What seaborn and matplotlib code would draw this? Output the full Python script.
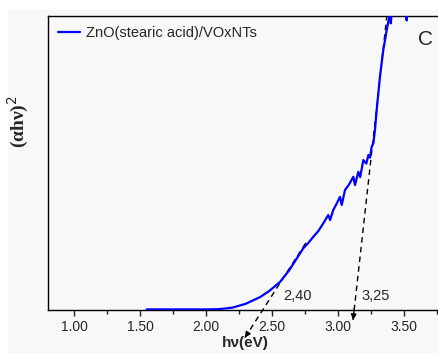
import numpy as np
import pandas as pd
import seaborn as sns
import matplotlib.pyplot as plt
from matplotlib.patches import Rectangle

# photon energy (eV) and (alpha h nu)^2 in arbitrary units
energy = [1.55, 1.70, 1.85, 2.00, 2.10, 2.20, 2.30, 2.41, 2.48, 2.56, 2.63, 2.68,
          2.737, 2.775, 2.813, 2.85, 2.889, 2.926, 2.94, 2.964, 2.99, 3.015, 3.028,
          3.053, 3.085, 3.116, 3.129, 3.154, 3.168, 3.192, 3.215, 3.23, 3.242, 3.255,
          3.268, 3.28, 3.293, 3.318, 3.343, 3.369, 3.394, 3.40, 3.42, 3.47, 3.515,
          3.52, 3.525, 3.60, 3.75]
absorb = [0.002, 0.002, 0.002, 0.002, 0.003, 0.008, 0.021, 0.044, 0.065, 0.095, 0.135,
          0.17, 0.21, 0.228, 0.249, 0.268, 0.295, 0.323, 0.306, 0.34, 0.362, 0.385,
          0.357, 0.408, 0.428, 0.453, 0.425, 0.47, 0.452, 0.51, 0.498, 0.527, 0.518,
          0.555, 0.567, 0.612, 0.68, 0.794, 0.884, 0.952, 1.01, 0.975, 1.08, 1.1,
          1.05, 0.985, 1.05, 1.15, 1.2]
series_name = "ZnO(stearic acid)/VOxNTs"

# tangent extrapolations: (x0, y0) -> (x1, y1) with edge label
tangent_low = [(2.295, -0.094), (2.76, 0.231)]
tangent_high = [(3.114, -0.034), (3.37, 1.0)]
edge_labels = ["2,40", "3,25"]
edge_label_x = [2.585, 3.18]

df = pd.DataFrame({"hv": energy, "a2": absorb, "sample": series_name})

sns.set_style("ticks")
plt.rcParams["font.family"] = ["Liberation Sans", "DejaVu Sans"]

fig = plt.figure(figsize=(4.38, 3.53), dpi=100)
fig.patch.set_facecolor("white")
bg = "#f8f8f8"
fig.patches.append(Rectangle((8 / 438, 0), 1, 1 - 10 / 353, transform=fig.transFigure,
                             facecolor=bg, edgecolor="none", zorder=-1))

ax = fig.add_axes([47.6 / 438, 43 / 353, 396 / 438, 294 / 353])
ax.set_facecolor(bg)

sns.lineplot(data=df, x="hv", y="a2", hue="sample", palette=["#0000ff"],
             estimator=None, sort=False, linewidth=1.6, ax=ax, zorder=3)

for (p0, p1) in [tangent_low, tangent_high]:
    ax.plot([p0[0], p1[0]], [p0[1], p1[1]], color="black", linestyle=(0, (4, 3)),
            linewidth=1.0, clip_on=False, zorder=2)
    # small arrow head at the lower end
    dx, dy = p1[0] - p0[0], p1[1] - p0[1]
    ax.annotate("", xy=p0, xytext=(p0[0] + dx * 0.04, p0[1] + dy * 0.04),
                arrowprops=dict(arrowstyle="-|>", color="black", lw=1.0,
                                mutation_scale=8, shrinkA=0, shrinkB=0),
                annotation_clip=False)

for lbl, lx in zip(edge_labels, edge_label_x):
    ax.text(lx, 0.048, lbl, fontsize=10.5, ha="left", va="center")

ax.set_xlim(0.8, 3.8)
ax.set_ylim(0, 1.0)
ax.set_xticks([1.0, 1.5, 2.0, 2.5, 3.0, 3.5])
ax.set_xticklabels(["1.00", "1.50", "2.00", "2.50", "3.00", "3.50"])
ax.set_xticks([1.25, 1.75, 2.25, 2.75, 3.25, 3.75], minor=True)
ax.tick_params(axis="x", which="major", direction="out", length=4, width=1, labelsize=10, pad=3)
ax.tick_params(axis="x", which="minor", direction="out", length=3, width=1)
ax.set_yticks([])
for s in ax.spines.values():
    s.set_linewidth(1.0)
    s.set_color("black")

ax.set_xlabel("h\u03bd(eV)", fontsize=11, fontweight="bold", labelpad=2)
ax.set_ylabel("(\u03b1h\u03bd)$^2$", fontsize=14, fontweight="bold",
              family=["Liberation Serif", "DejaVu Serif"])
ax.yaxis.set_label_coords(-0.042, 0.64)

ax.text(0.955, 0.92, "C", transform=ax.transAxes, fontsize=15, ha="center", va="center")

leg = ax.legend(loc="upper left", frameon=False, fontsize=10.5, handlelength=1.5,
                handletextpad=0.4, borderaxespad=0.3, bbox_to_anchor=(0.0, 1.0))
for h in leg.get_lines():
    h.set_linewidth(1.6)

fig.savefig("out.png", dpi=100, facecolor=fig.get_facecolor())
